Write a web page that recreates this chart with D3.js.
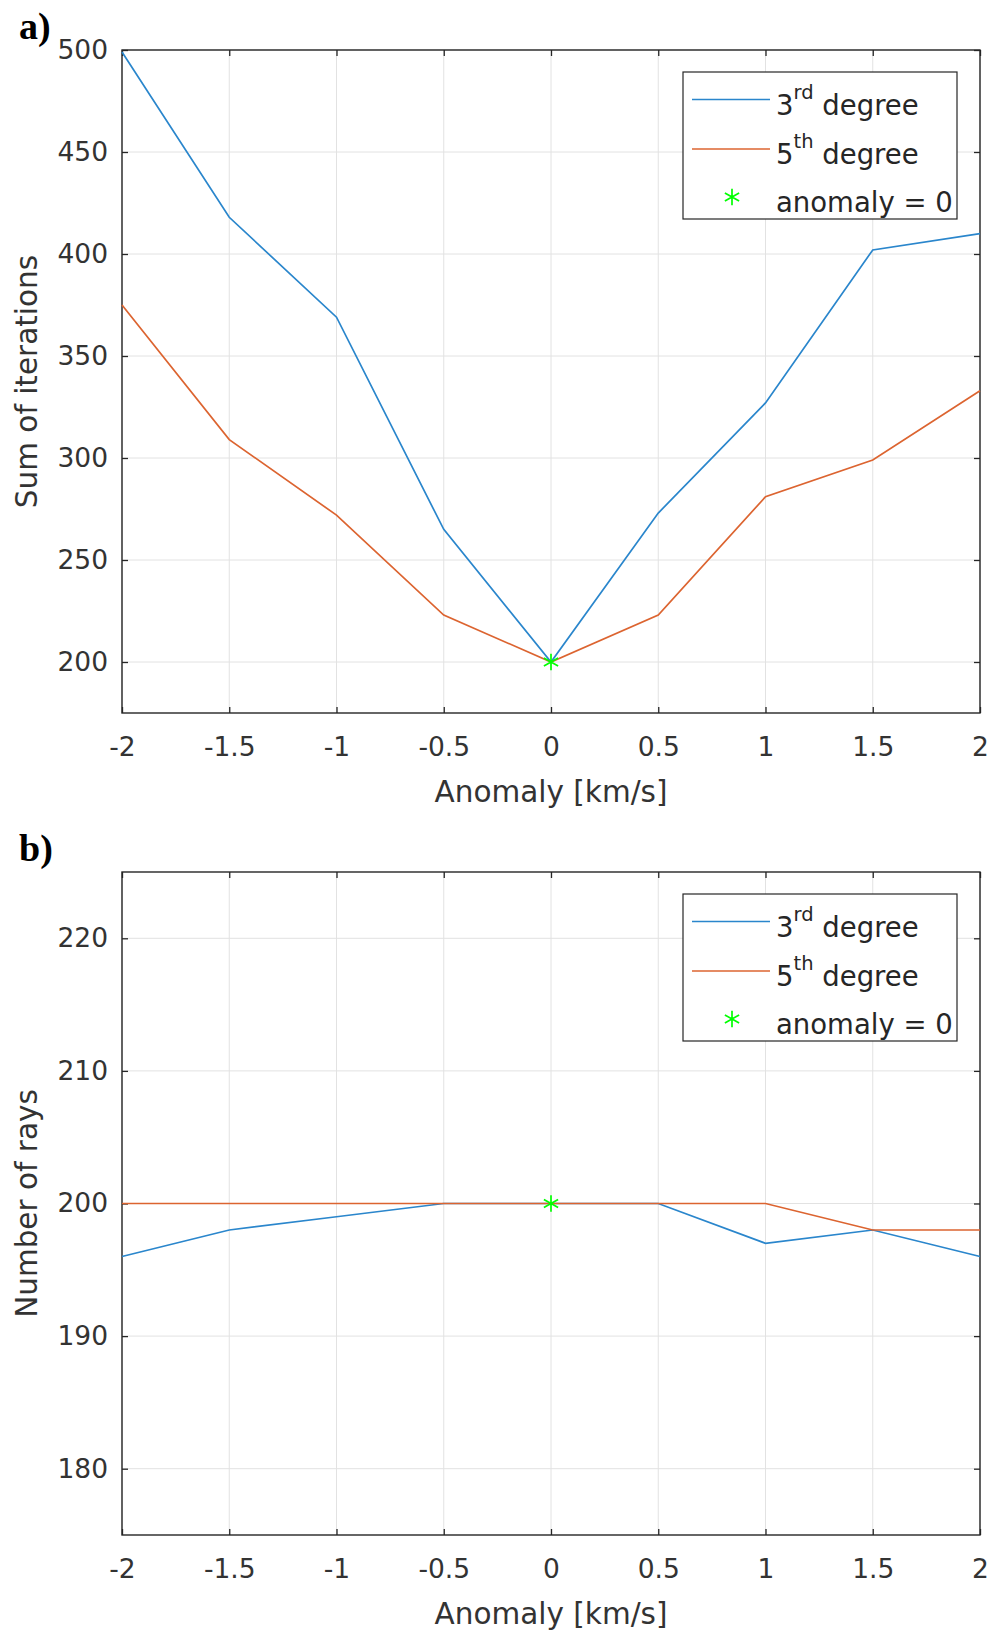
<!DOCTYPE html>
<html>
<head>
<meta charset="utf-8">
<script src="https://cdn.jsdelivr.net/npm/d3@7"></script>
<style>
  body { margin: 0; background: #fff; }
  svg { display: block; font-family: "DejaVu Sans", sans-serif; }
  .tick text { fill: #333; font-size: 26.5px; }
  .axis-title { fill: #333; font-size: 29.5px; }
  .legend-text { fill: #262626; font-size: 27.5px; }
  .panel-label { font-family: "Liberation Serif", serif; font-weight: bold; font-size: 38px; fill: #000; }
</style>
</head>
<body>
<div id="chart"></div>
<script>
// Two stacked MATLAB-style line plots: iterations and number of rays vs anomaly.

const anomaly = [-2, -1.5, -1, -0.5, 0, 0.5, 1, 1.5, 2];
const xTicks = [-2, -1.5, -1, -0.5, 0, 0.5, 1, 1.5, 2];

// panel a) sum of iterations
const iter3rd = [499, 418, 369, 265, 200, 273, 327, 402, 410];
const iter5th = [375, 309, 272, 223, 200, 223, 281, 299, 333];
const iterTicks = [200, 250, 300, 350, 400, 450, 500];

// panel b) number of rays
const rays3rd = [196, 198, 199, 200, 200, 200, 197, 198, 196];
const rays5th = [200, 200, 200, 200, 200, 200, 200, 198, 198];
const raysTicks = [180, 190, 200, 210, 220];

const legendLabels = [["3", "rd", " degree"], ["5", "th", " degree"], ["anomaly = 0"]];

const blue = "#2a86cc";
const orange = "#dc6430";
const green = "#00FF00";

const width = 992;
const height = 1637;

const svg = d3.select("#chart")
  .append("svg")
  .attr("width", width)
  .attr("height", height);

// plain hyphen for negatives, like the original figure
const tickFmt = d => String(d);

function drawPanel(opts) {
  const left = 122, right = 980;
  const top = opts.top, bottom = opts.top + 663;

  const x = d3.scaleLinear().domain([-2, 2]).range([left, right]);
  const y = d3.scaleLinear().domain(opts.yDomain).range([bottom, top]);

  const g = svg.append("g");

  // grid
  g.append("g").selectAll("line")
    .data(xTicks)
    .join("line")
    .attr("x1", d => x(d)).attr("x2", d => x(d))
    .attr("y1", top).attr("y2", bottom)
    .attr("stroke", "#e2e2e2").attr("stroke-width", 1);

  g.append("g").selectAll("line")
    .data(opts.yTicks)
    .join("line")
    .attr("x1", left).attr("x2", right)
    .attr("y1", d => y(d)).attr("y2", d => y(d))
    .attr("stroke", "#e2e2e2").attr("stroke-width", 1);

  // axes (ticks inside, box drawn separately)
  const styleAxis = sel => {
    sel.attr("font-family", null).attr("font-size", null);
    sel.select(".domain").remove();
    sel.selectAll(".tick line").attr("stroke", "#262626").attr("stroke-width", 1.3);
  };

  g.append("g")
    .attr("transform", `translate(0,${bottom})`)
    .call(d3.axisBottom(x).tickValues(xTicks).tickSize(-6).tickPadding(24).tickFormat(tickFmt))
    .call(styleAxis);

  g.append("g")
    .attr("transform", `translate(0,${top})`)
    .call(d3.axisTop(x).tickValues(xTicks).tickSize(-6).tickFormat(""))
    .call(styleAxis);

  g.append("g")
    .attr("transform", `translate(${left},0)`)
    .call(d3.axisLeft(y).tickValues(opts.yTicks).tickSize(-6).tickPadding(14).tickFormat(tickFmt))
    .call(styleAxis);

  g.append("g")
    .attr("transform", `translate(${right},0)`)
    .call(d3.axisRight(y).tickValues(opts.yTicks).tickSize(-6).tickFormat(""))
    .call(styleAxis);

  g.append("rect")
    .attr("x", left).attr("y", top)
    .attr("width", right - left).attr("height", bottom - top)
    .attr("fill", "none")
    .attr("stroke", "#262626")
    .attr("stroke-width", 1.4);

  // series
  const line = d3.line()
    .x((d, i) => x(anomaly[i]))
    .y(d => y(d));

  g.append("path")
    .datum(opts.s3)
    .attr("d", line)
    .attr("fill", "none")
    .attr("stroke", blue)
    .attr("stroke-width", 1.7);

  g.append("path")
    .datum(opts.s5)
    .attr("d", line)
    .attr("fill", "none")
    .attr("stroke", orange)
    .attr("stroke-width", 1.7);

  const star = d3.symbol().type(d3.symbolAsterisk).size(190);

  g.append("path")
    .attr("d", star())
    .attr("transform", `translate(${x(0)},${y(opts.s3[anomaly.indexOf(0)])})`)
    .attr("fill", "none")
    .attr("stroke", green)
    .attr("stroke-width", 1.7);

  // axis titles
  g.append("text")
    .attr("class", "axis-title")
    .attr("x", (left + right) / 2)
    .attr("y", bottom + 89)
    .attr("text-anchor", "middle")
    .text("Anomaly [km/s]");

  g.append("text")
    .attr("class", "axis-title")
    .attr("transform", `translate(37,${(top + bottom) / 2}) rotate(-90)`)
    .attr("text-anchor", "middle")
    .text(opts.yTitle);

  g.append("text")
    .attr("class", "panel-label")
    .attr("x", 19)
    .attr("y", top - 11)
    .text(opts.label);

  // legend
  const lg = g.append("g").attr("transform", `translate(683,${top + 22})`);
  lg.append("rect")
    .attr("width", 274).attr("height", 147)
    .attr("fill", "#fff")
    .attr("stroke", "#262626")
    .attr("stroke-width", 1.2);

  const rowY = [27.5, 77, 125];
  const rowColor = [blue, orange];
  rowColor.forEach((c, i) => {
    lg.append("line")
      .attr("x1", 9).attr("x2", 87)
      .attr("y1", rowY[i]).attr("y2", rowY[i])
      .attr("stroke", c).attr("stroke-width", 1.7);
  });
  lg.append("path")
    .attr("d", star())
    .attr("transform", `translate(49,${rowY[2]})`)
    .attr("fill", "none")
    .attr("stroke", green)
    .attr("stroke-width", 1.7);

  legendLabels.forEach((parts, i) => {
    const t = lg.append("text")
      .attr("class", "legend-text")
      .attr("x", 93)
      .attr("y", rowY[i] + 15);
    if (parts.length === 1) {
      t.text(parts[0]);
    } else {
      t.append("tspan").text(parts[0]);
      t.append("tspan").attr("dy", -16).attr("font-size", "19.5px").text(parts[1]);
      t.append("tspan").attr("dy", 16).text(parts[2]);
    }
  });
}

drawPanel({
  top: 50,
  yDomain: [175, 500],
  yTicks: iterTicks,
  s3: iter3rd,
  s5: iter5th,
  yTitle: "Sum of iterations",
  label: "a)"
});

drawPanel({
  top: 872,
  yDomain: [175, 225],
  yTicks: raysTicks,
  s3: rays3rd,
  s5: rays5th,
  yTitle: "Number of rays",
  label: "b)"
});
</script>
</body>
</html>
